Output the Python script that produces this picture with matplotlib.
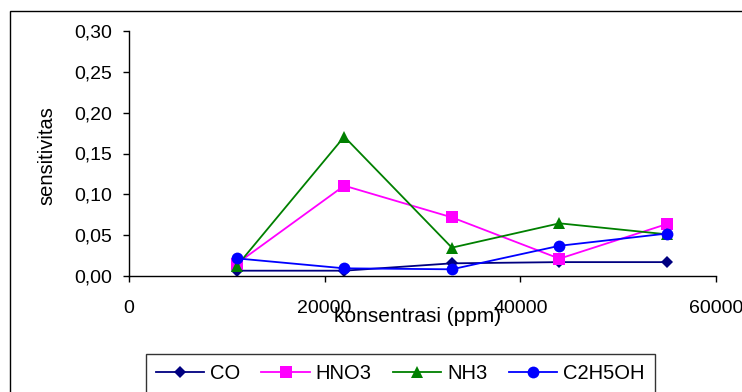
import matplotlib
matplotlib.use("Agg")
import matplotlib.pyplot as plt
from matplotlib.ticker import FuncFormatter
from matplotlib.patches import Rectangle

plt.rcParams['font.family'] = ['Liberation Sans', 'DejaVu Sans']

konsentrasi = [11000, 22000, 33000, 44000, 55000]
co = [0.0065, 0.0065, 0.0155, 0.017, 0.017]
hno3 = [0.015, 0.1106, 0.0718, 0.0212, 0.0637]
nh3 = [0.012, 0.1706, 0.0347, 0.0645, 0.051]
c2h5oh = [0.0216, 0.0094, 0.0082, 0.037, 0.052]

series_names = ["CO", "HNO3", "NH3", "C2H5OH"]
x_ticks = [0, 20000, 40000, 60000]
y_ticks = [0.00, 0.05, 0.10, 0.15, 0.20, 0.25, 0.30]

W, H = 742, 392
fig = plt.figure(figsize=(W / 100, H / 100), dpi=100)
ax = fig.add_axes([129 / W, 1 - 276 / H, (716 - 129) / W, (276 - 31) / H])

styles = [
    dict(color="#000080", marker="D", markersize=6.5),
    dict(color="#FF00FF", marker="s", markersize=8.5),
    dict(color="#008000", marker="^", markersize=9),
    dict(color="#0000FF", marker="o", markersize=8.5),
]
for name, vals, st in zip(series_names, [co, hno3, nh3, c2h5oh], styles):
    ax.plot(konsentrasi, vals, label=name, linewidth=1.3, clip_on=False,
            markeredgewidth=0, **st)

ax.set_xlim(0, 60000)
ax.set_ylim(0, 0.30)
ax.set_xticks(x_ticks)
ax.set_yticks(y_ticks)
ax.xaxis.set_major_formatter(FuncFormatter(lambda v, p: f"{int(v)}"))
ax.yaxis.set_major_formatter(FuncFormatter(lambda v, p: f"{v:.2f}".replace(".", ",")))
for s in ["top", "right"]:
    ax.spines[s].set_visible(False)
for s in ["left", "bottom"]:
    ax.spines[s].set_linewidth(1.0)
    ax.spines[s].set_color("black")
ax.tick_params(axis="both", direction="out", length=4.5, width=1, labelsize=14, colors="black")
ax.tick_params(axis="x", pad=13)
ax.tick_params(axis="y", pad=8)

ax.set_xlabel("konsentrasi (ppm)", fontsize=15)
ax.xaxis.set_label_coords((418 - 129) / (716 - 129), -(322 - 276) / (276 - 31), transform=ax.transAxes)
ax.xaxis.label.set_va("baseline")
ax.set_ylabel("sensitivitas", fontsize=14.5)
ax.yaxis.set_label_coords(-(129 - 47) / (716 - 129), (276 - 156) / (276 - 31), transform=ax.transAxes)
ax.yaxis.label.set_va("center")

# outer chart frame (left and top edges visible)
frame = Rectangle((10 / W, -0.1), 1.2, 1 - 11 / H + 0.1, transform=fig.transFigure,
                  fill=False, edgecolor="black", linewidth=1.0, clip_on=False)
fig.patches.append(frame)

leg = fig.legend(loc="upper left", bbox_to_anchor=(145.5 / W, 1 - 354 / H), ncol=4,
                 frameon=True, fancybox=False, edgecolor="black", fontsize=14.5,
                 handlelength=2.4, handletextpad=0.3, columnspacing=1.05,
                 borderpad=0.5, borderaxespad=0)
leg.get_frame().set_linewidth(1.0)

fig.savefig("out.png", dpi=100)
